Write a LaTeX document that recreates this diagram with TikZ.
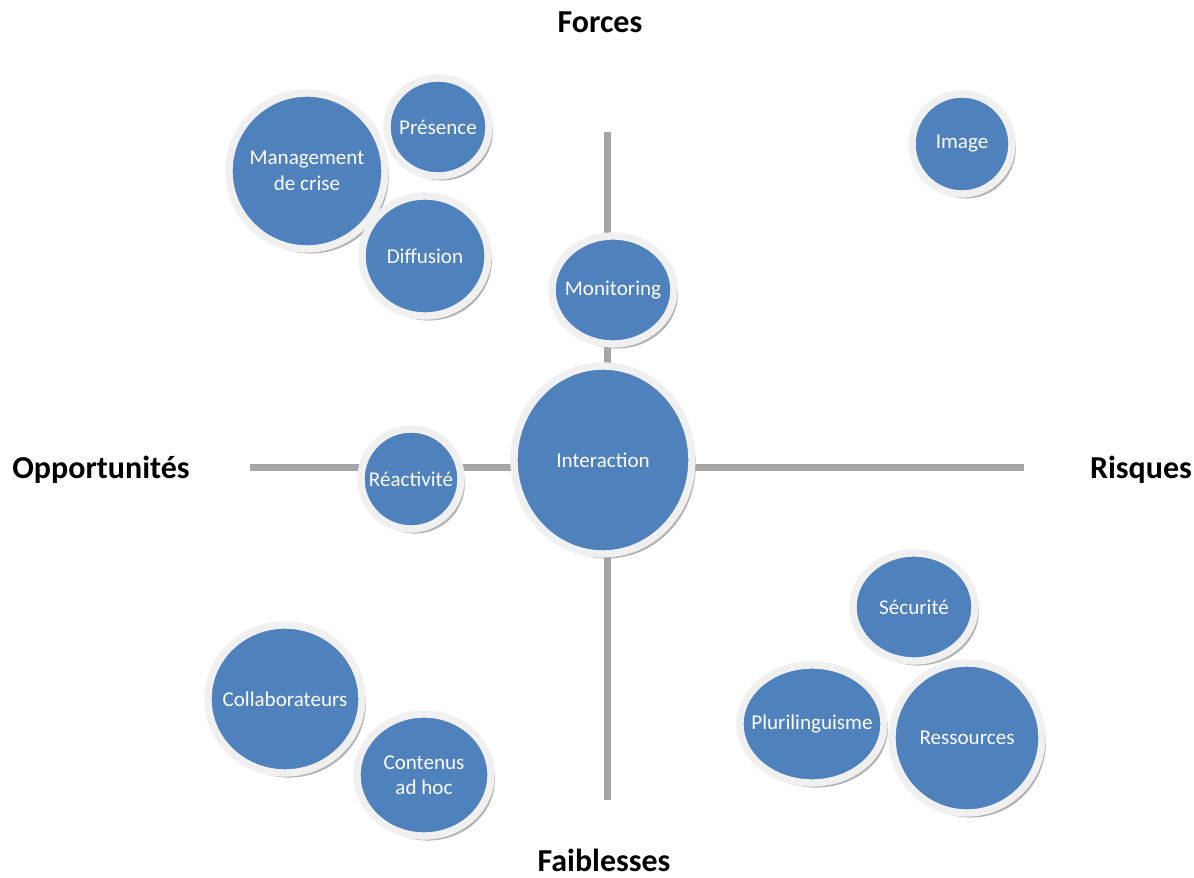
\documentclass[tikz,border=0pt]{standalone}
\usepackage{fontspec}
\setmainfont{Carlito}
\usetikzlibrary{shapes.geometric,shadows}
\definecolor{bubblue}{HTML}{4F81BD}
\definecolor{axisgray}{HTML}{A6A6A6}
\definecolor{ringwhite}{HTML}{F0F0F0}
\begin{document}
\begin{tikzpicture}[x=0.02cm,y=-0.02cm,
  bubble/.style={ellipse, inner sep=0pt, fill=bubblue, draw=ringwhite, line width=4.2pt,
    drop shadow={shadow xshift=2.2pt, shadow yshift=-2.6pt, fill=black!55, opacity=0.55}},
  bubtext/.style={text=white, font=\fontsize{12}{14.5}\selectfont, align=center, inner sep=0pt},
  quadlabel/.style={font=\fontsize{18.2}{20}\selectfont\bfseries},
  axis/.style={draw=axisgray, line width=0.14cm}]
\useasboundingbox (0,0) rectangle (1194,878);
% axes
\coordinate (west) at (250,468);
\coordinate (east) at (1024,468);
\coordinate (north) at (607,132);
\coordinate (south) at (607,800);
\draw[axis] (west) -- (east);
\draw[axis] (north) -- (south);
% quadrant titles
\node[quadlabel] (forces) at (600,22) {Forces};
\node[quadlabel] (faiblesses) at (604,860) {Faiblesses};
\node[quadlabel] (opport) at (101,470) {Opportunités};
\node[quadlabel] (risques) at (1141,470) {Risques};
% bubbles
\node[bubble, minimum width=3.12cm, minimum height=3.12cm, label={[bubtext]center:Management\\de crise}] (mgmt) at (307,171) {};
\node[bubble, minimum width=2.04cm, minimum height=1.96cm, label={[bubtext]center:Présence}] (presence) at (438,127) {};
\node[bubble, minimum width=2.52cm, minimum height=2.40cm, label={[bubtext]center:Diffusion}] (diffusion) at (425,256) {};
\node[bubble, minimum width=2.44cm, minimum height=2.16cm, label={[bubtext]center:Monitoring}] (monitoring) at (613,290) {};
\node[bubble, minimum width=2.00cm, minimum height=2.00cm, label={[bubtext]center:Image}] (image) at (962,144) {};
\node[bubble, minimum width=3.56cm, minimum height=3.76cm, label={[bubtext]center:Interaction}] (interaction) at (603,460) {};
\node[bubble, minimum width=2.00cm, minimum height=2.00cm, label={[bubtext]center:Réactivité}] (reactivite) at (411,479) {};
\node[bubble, minimum width=3.08cm, minimum height=2.96cm, label={[bubtext]center:Collaborateurs}] (collab) at (285,699) {};
\node[bubble, minimum width=2.68cm, minimum height=2.44cm, label={[bubtext]center:Contenus\\ad hoc}] (contenus) at (424,775) {};
\node[bubble, minimum width=2.44cm, minimum height=2.16cm, label={[bubtext]center:Sécurité}] (securite) at (914,607) {};
\node[bubble, minimum width=2.88cm, minimum height=2.36cm, label={[bubtext]center:Plurilinguisme}] (pluri) at (812,724) {};
\node[bubble, minimum width=3.00cm, minimum height=3.00cm, label={[bubtext]center:Ressources}] (ressources) at (967,738) {};
\end{tikzpicture}
\end{document}
